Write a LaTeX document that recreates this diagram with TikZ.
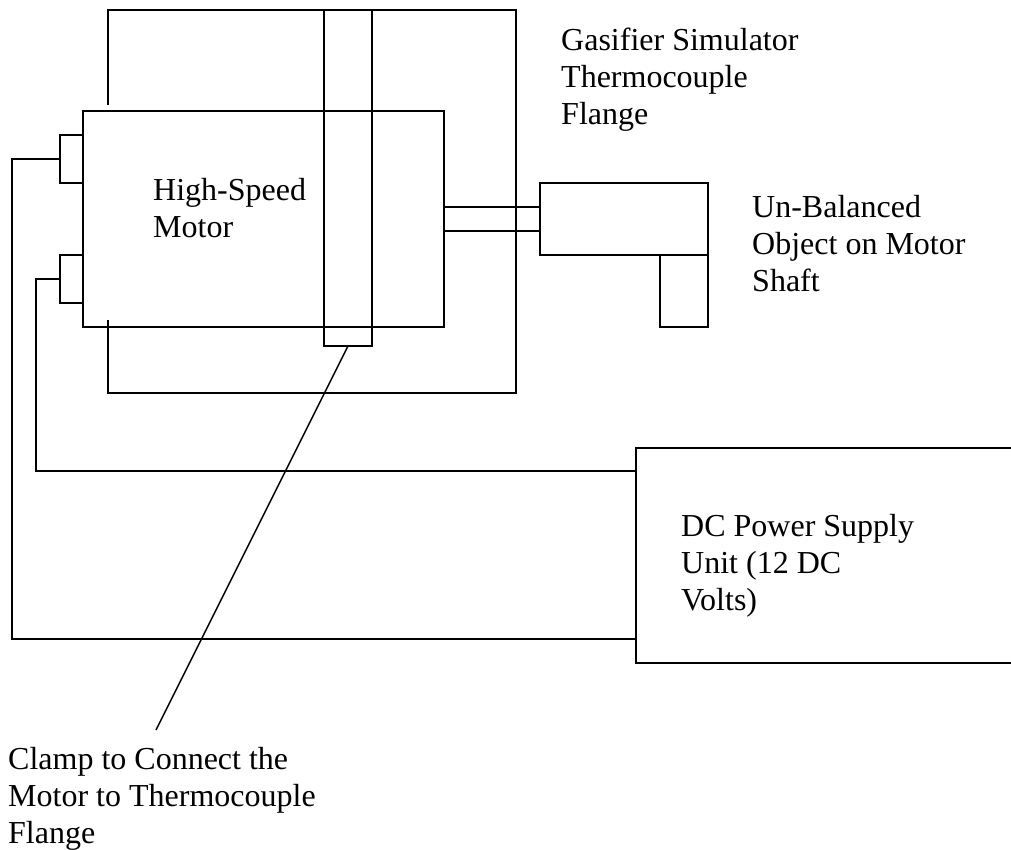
\documentclass[tikz,border=0pt]{standalone}
\usepackage{fontspec}
\setmainfont{Liberation Serif}
\usetikzlibrary{positioning,calc}

\begin{document}
\begin{tikzpicture}[
    x=1pt, y=-1pt,
    part/.style={draw, line width=1.4pt, minimum width=#1, inner sep=0pt, outer sep=0pt},
    wire/.style={draw, line width=1.4pt},
    label/.style={align=left, anchor=north west, inner sep=0pt, font=\fontsize{32}{37}\selectfont}
  ]
  \useasboundingbox (0,0) rectangle (1011,850);

  % flange behind the motor
  \coordinate (FT) at (108,10);
  \coordinate (FB) at (108,393);
  \coordinate (FR) at (516,10);
  \draw[wire] (108,105) -- (FT) -- (FR) -- (516,393) -- (FB) -- (108,320);

  \node[part=361pt, minimum height=216pt, anchor=north west] (M) at (83,111) {};
  \node[part=48pt, minimum height=336pt, anchor=north west] (C) at (324,10) {};
  \node[part=23pt, minimum height=48pt, anchor=north west] (T1) at (60,135) {};
  \node[part=23pt, minimum height=48pt, anchor=north west] (T2) at (60,255) {};
  \node[part=168pt, minimum height=72pt, anchor=north west] (O) at (540,183) {};
  \node[part=48pt, minimum height=72pt, anchor=north west] (W) at (660,255) {};

  % motor shaft
  \draw[wire] (M.east |- 0,207) -- (O.west |- 0,207);
  \draw[wire] (M.east |- 0,231) -- (O.west |- 0,231);

  % supply box is open on the right
  \coordinate (PT) at (1011,448);
  \coordinate (PB) at (1011,663);
  \coordinate (PL) at (636,448);
  \coordinate (PM) at (636,663);
  \draw[wire] (PT) -- (PL) -- (PM) -- (PB);

  \draw[wire] (T1.west) -- (12,159) -- (12,639) -- (636,639);
  \draw[wire] (T2.west) -- (36,279) -- (36,471) -- (636,471);

  \coordinate (CL) at (156,730);
  \draw[wire] (C.south) -- (CL);

  \node[label] (LF) at (561,28) {Gasifier Simulator\\Thermocouple\\Flange};
  \node[label] (LM) at (153,178) {High-Speed\\Motor};
  \node[label] (LO) at (752,195) {Un-Balanced\\Object on Motor\\Shaft};
  \node[label] (LP) at (681,514) {DC Power Supply\\Unit (12 DC\\Volts)};
  \node[label] (LC) at (8,747) {Clamp to Connect the\\Motor to Thermocouple\\Flange};
\end{tikzpicture}
\end{document}
